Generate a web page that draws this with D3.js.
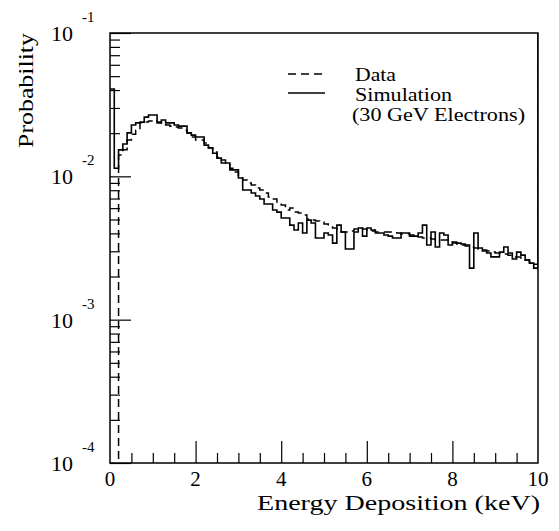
<!DOCTYPE html>
<html>
<head>
<meta charset="utf-8">
<script src="https://cdn.jsdelivr.net/npm/d3@7"></script>
<style>
  body { margin: 0; background: #fff; }
  svg text { font-family: 'Liberation Serif', 'Times New Roman', Tinos, Times, serif; fill: #000; }
</style>
</head>
<body>
<div id="chart"></div>
<script>
// bins are 0.1 keV wide, 0 .. 10 keV
const binWidth = 0.1;

// simulated probability per bin (solid)
const simulation = [
  0.0407, 0.0114, 0.0153, 0.0168, 0.0201, 0.0228, 0.0236, 0.0239, 0.0259, 0.0268,
  0.0268, 0.0236, 0.0247, 0.0236, 0.0236, 0.0228, 0.0224, 0.0224, 0.0201, 0.0194,
  0.0188, 0.0188, 0.0165, 0.0158, 0.0145, 0.0134, 0.0124, 0.0124, 0.0111, 0.0111,
  0.00973, 0.00803, 0.00803, 0.00765, 0.00729, 0.00694, 0.00641, 0.00641, 0.00582, 0.00563,
  0.00512, 0.00512, 0.00457, 0.00422, 0.00472, 0.00402, 0.00495, 0.00472, 0.00371, 0.00371,
  0.00402, 0.00390, 0.00342, 0.00457, 0.00409, 0.00311, 0.00311, 0.00409, 0.00436, 0.00383,
  0.00436, 0.00422, 0.00402, 0.00402, 0.00390, 0.00383, 0.00371, 0.00371, 0.00402, 0.00402,
  0.00383, 0.00383, 0.00402, 0.00457, 0.00332, 0.00409, 0.00321, 0.00402, 0.00390, 0.00332,
  0.00348, 0.00342, 0.00337, 0.00332, 0.00229, 0.00402, 0.00316, 0.00301, 0.00292, 0.00274,
  0.00274, 0.00296, 0.00321, 0.00292, 0.00265, 0.00296, 0.00282, 0.00261, 0.00248, 0.00229
];

// measured probability per bin (dashed)
const measured = [
  0, 0, 0.0141, 0.0153, 0.0179, 0.0197, 0.0210, 0.0236, 0.0239, 0.0243,
  0.0247, 0.0239, 0.0236, 0.0228, 0.0224, 0.0221, 0.0217, 0.0210, 0.0201, 0.0188,
  0.0179, 0.0179, 0.0171, 0.0158, 0.0148, 0.0136, 0.0130, 0.0124, 0.0114, 0.0107,
  0.00989, 0.00942, 0.00898, 0.00870, 0.00829, 0.00803, 0.00765, 0.00717, 0.00694, 0.00662,
  0.00631, 0.00582, 0.00601, 0.00563, 0.00554, 0.00537, 0.00504, 0.00495, 0.00488, 0.00480,
  0.00465, 0.00443, 0.00436, 0.00422, 0.00409, 0.00409, 0.00415, 0.00429, 0.00436, 0.00429,
  0.00422, 0.00415, 0.00409, 0.00409, 0.00409, 0.00409, 0.00409, 0.00402, 0.00396, 0.00396,
  0.00390, 0.00383, 0.00377, 0.00371, 0.00371, 0.00365, 0.00359, 0.00359, 0.00359, 0.00348,
  0.00342, 0.00337, 0.00332, 0.00326, 0.00321, 0.00316, 0.00311, 0.00306, 0.00301, 0.00296,
  0.00292, 0.00292, 0.00287, 0.00282, 0.00274, 0.00274, 0.00269, 0.00261, 0.00252, 0.00244
];

const xLabels = [0, 2, 4, 6, 8, 10];
const yExponents = [-1, -2, -3, -4];
const legendNames = ["Data", "Simulation"];
const legendNote = "(30 GeV Electrons)";

const FONT = "'Liberation Serif', 'Times New Roman', Tinos, Times, serif";

class HistChart {
  constructor(config) {
    this.config = {
      parent: config.parent,
      width: config.width || 559,
      height: config.height || 531,
      margin: config.margin || {top: 33, right: 21, bottom: 68, left: 110}
    };
    this.init();
  }

  init() {
    const c = this.config;
    this.w = c.width - c.margin.left - c.margin.right;
    this.h = c.height - c.margin.top - c.margin.bottom;

    this.svg = d3.select(c.parent).append("svg")
      .attr("width", c.width)
      .attr("height", c.height)
      .attr("font-family", FONT);

    this.chart = this.svg.append("g")
      .attr("transform", `translate(${c.margin.left}, ${c.margin.top})`);

    this.xscale = d3.scaleLinear().domain([0, 10]).range([0, this.w]);
    this.yscale = d3.scaleLog().domain([1e-4, 1e-1]).range([this.h, 0]);

    this.chart.append("clipPath").attr("id", "plot")
      .append("rect").attr("width", this.w).attr("height", this.h);
  }

  update(sim, dat) {
    this.sim = sim;
    this.dat = dat;
    this.render();
  }

  // step outline; closes up the right edge like the original plot does
  histPath(vals) {
    const pts = vals.map((v, i) => [i * binWidth, v]);
    pts.push([vals.length * binWidth, 1]);
    return d3.line()
      .x(d => this.xscale(d[0]))
      .y(d => this.yscale(Math.max(d[1], 1e-5)))
      .curve(d3.curveStepAfter)(pts);
  }

  render() {
    const chart = this.chart, x = this.xscale, y = this.yscale;

    // ticks, pointing inward
    const minorY = [];
    [-4, -3, -2].forEach(e => d3.range(2, 10).forEach(k => minorY.push(k * Math.pow(10, e))));
    const yaxisMinor = chart.append("g").call(d3.axisRight(y).tickValues(minorY).tickSize(10).tickFormat(""));
    const yaxisMajor = chart.append("g").call(d3.axisRight(y).tickValues(yExponents.map(e => Math.pow(10, e))).tickSize(21).tickFormat(""));

    const minorX = d3.range(0.5, 10, 0.5).filter(v => v % 2 !== 0);
    const xaxisMinor = chart.append("g").attr("transform", `translate(0, ${this.h})`)
      .call(d3.axisTop(x).tickValues(minorX).tickSize(10).tickFormat(""));
    const xaxisMajor = chart.append("g").attr("transform", `translate(0, ${this.h})`)
      .call(d3.axisTop(x).tickValues([2, 4, 6, 8]).tickSize(22).tickFormat(""));

    [yaxisMinor, yaxisMajor, xaxisMinor, xaxisMajor].forEach(a => {
      a.select(".domain").remove();
      a.selectAll("line").attr("stroke", "#000").attr("stroke-width", 1.2);
    });

    // histograms
    chart.append("path")
      .attr("clip-path", "url(#plot)")
      .attr("d", this.histPath(this.dat))
      .attr("fill", "none").attr("stroke", "#000")
      .attr("stroke-width", 1.5).attr("stroke-dasharray", "8,5");

    chart.append("path")
      .attr("clip-path", "url(#plot)")
      .attr("d", this.histPath(this.sim))
      .attr("fill", "none").attr("stroke", "#000")
      .attr("stroke-width", 1.6);

    // frame
    chart.append("rect")
      .attr("width", this.w).attr("height", this.h)
      .attr("fill", "none").attr("stroke", "#000").attr("stroke-width", 1.5);

    // x labels
    chart.selectAll(".xlab").data(xLabels).join("text")
      .attr("class", "xlab")
      .attr("x", d => x(d))
      .attr("y", this.h + 23)
      .attr("text-anchor", "middle")
      .attr("font-size", "21px")
      .text(d => d);

    // y labels 10^n
    const ylab = chart.selectAll(".ylab").data(yExponents).join("g")
      .attr("class", "ylab")
      .attr("transform", d => `translate(0, ${y(Math.pow(10, d))})`);
    ylab.append("text").attr("x", -37).attr("y", 8)
      .attr("text-anchor", "end").attr("font-size", "22px").text("10");
    ylab.append("text").attr("x", -28).attr("y", -11)
      .attr("font-size", "15px").text(d => d);

    // axis titles
    this.svg.append("text")
      .attr("x", 540).attr("y", 510)
      .attr("text-anchor", "end")
      .attr("font-size", "22px")
      .attr("textLength", 283).attr("lengthAdjust", "spacingAndGlyphs")
      .text("Energy Deposition (keV)");

    this.svg.append("text")
      .attr("transform", "translate(33, 148) rotate(-90)")
      .attr("font-size", "22px")
      .attr("textLength", 115).attr("lengthAdjust", "spacingAndGlyphs")
      .text("Probability");

    // legend
    const lg = this.svg.append("g");
    legendNames.forEach((name, i) => {
      lg.append("line")
        .attr("x1", 288).attr("x2", 325)
        .attr("y1", 74 + i * 19).attr("y2", 74 + i * 19)
        .attr("stroke", "#000").attr("stroke-width", 1.5)
        .attr("stroke-dasharray", i === 0 ? "8,5" : null);
    });
    const lines = legendNames.concat([legendNote]);
    const widths = [41, 97, 173];
    lines.forEach((s, i) => {
      lg.append("text")
        .attr("x", i === 2 ? 352 : 355)
        .attr("y", 81 + i * 20)
        .attr("font-size", "18px")
        .attr("textLength", widths[i]).attr("lengthAdjust", "spacingAndGlyphs")
        .text(s);
    });
  }
}

const chart = new HistChart({parent: "#chart"});
chart.update(simulation, measured);
</script>
</body>
</html>
